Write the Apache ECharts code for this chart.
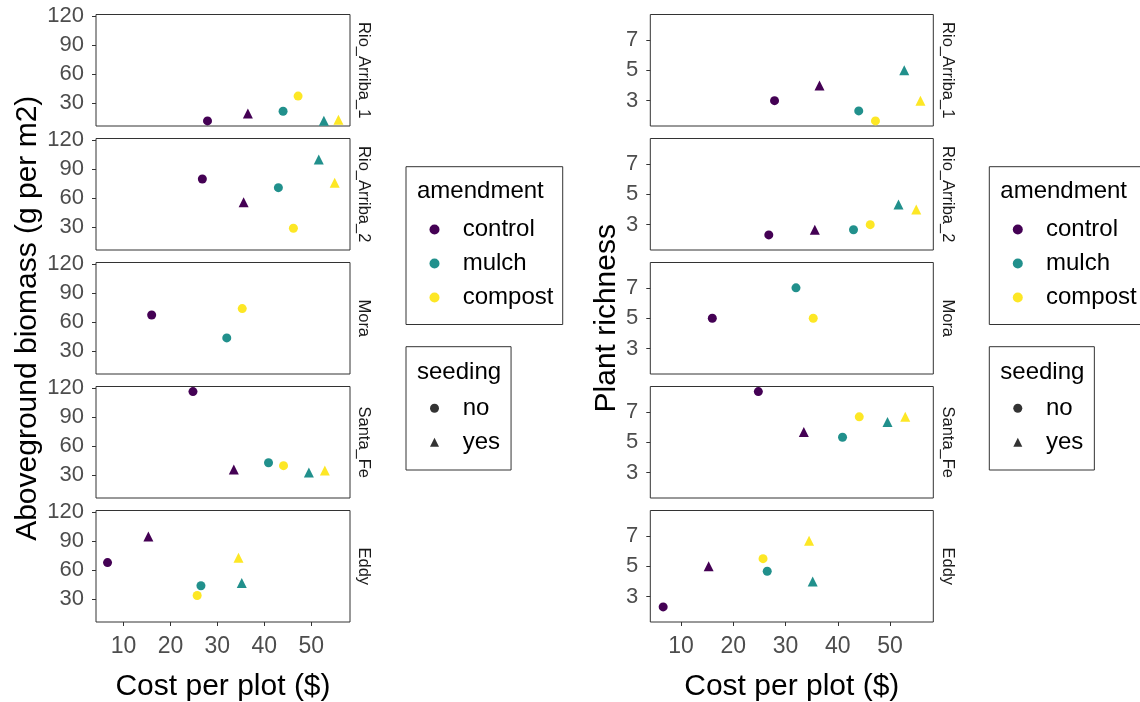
<!DOCTYPE html>
<html>
<head>
<meta charset="utf-8">
<title>Cost vs biomass and richness</title>
<script src="https://cdn.jsdelivr.net/npm/echarts@6/dist/echarts.min.js"></script>
<style>
  html, body { margin: 0; padding: 0; background: #fff; }
  #chart { width: 1140px; height: 702px; }
</style>
</head>
<body>
<div id="chart"></div>
<script>
// facets, groups and tick labels
const sites = ['Rio_Arriba_1', 'Rio_Arriba_2', 'Mora', 'Santa_Fe', 'Eddy'];
const amendments = ['control', 'mulch', 'compost'];
const amendmentColors = ['#440154', '#21908C', '#FDE725'];
const seedings = ['no', 'yes'];
const costTicks = [10, 20, 30, 40, 50];
const biomassTicks = [30, 60, 90, 120];
const richnessTicks = [3, 5, 7];

// one entry per plot mean
const pointSite = [
  'Rio_Arriba_1', 'Rio_Arriba_1', 'Rio_Arriba_1', 'Rio_Arriba_1', 'Rio_Arriba_1', 'Rio_Arriba_1',
  'Rio_Arriba_2', 'Rio_Arriba_2', 'Rio_Arriba_2', 'Rio_Arriba_2', 'Rio_Arriba_2', 'Rio_Arriba_2',
  'Mora', 'Mora', 'Mora',
  'Santa_Fe', 'Santa_Fe', 'Santa_Fe', 'Santa_Fe', 'Santa_Fe', 'Santa_Fe',
  'Eddy', 'Eddy', 'Eddy', 'Eddy', 'Eddy', 'Eddy'
];
const pointAmendment = [
  'control', 'control', 'mulch', 'mulch', 'compost', 'compost',
  'control', 'control', 'mulch', 'mulch', 'compost', 'compost',
  'control', 'mulch', 'compost',
  'control', 'control', 'mulch', 'mulch', 'compost', 'compost',
  'control', 'control', 'mulch', 'mulch', 'compost', 'compost'
];
const pointSeeding = [
  'no', 'yes', 'no', 'yes', 'no', 'yes',
  'no', 'yes', 'no', 'yes', 'no', 'yes',
  'no', 'no', 'no',
  'no', 'yes', 'no', 'yes', 'no', 'yes',
  'no', 'yes', 'no', 'yes', 'no', 'yes'
];
const cost = [
  27.9, 36.5, 44.0, 52.7, 47.2, 55.8,
  26.8, 35.6, 43.0, 51.6, 46.2, 55.0,
  16.0, 32.0, 35.3,
  24.8, 33.5, 40.9, 49.5, 44.1, 52.9,
  6.6, 15.3, 26.5, 35.2, 25.7, 34.5
];
const biomass = [
  11.8, 19.5, 21.8, 12, 37.5, 13,
  80, 56, 71, 100, 29, 76,
  67.6, 43.9, 74.2,
  116.6, 36, 43, 33, 40, 35,
  68, 95, 44, 47, 34, 73
];
const richness = [
  3.0, 4.0, 2.33, 5.0, 1.67, 3.0,
  2.33, 2.67, 2.67, 4.33, 3.0, 4.0,
  5, 7, 5,
  8.33, 5.67, 5.33, 6.33, 6.67, 6.67,
  2.33, 5.0, 4.67, 4.0, 5.5, 6.67
];

const FONT = '"Liberation Sans", Arial, sans-serif';
const facetTop0 = 14.5;
const facetStep = 124;
const facetH = 111.5;

// ggplot style 5% padding around the data
const padRange = arr => {
  const lo = Math.min(...arr), hi = Math.max(...arr);
  const pad = (hi - lo) * 0.05;
  return [lo - pad, hi + pad];
};
const costRange = padRange(cost);

const panels = [
  { left: 96, width: 254, values: biomass, ticks: biomassTicks,
    title: 'Aboveground biomass (g per m2)', nameGap: 53, legendLeft: 406 },
  { left: 650.3, width: 283, values: richness, ticks: richnessTicks,
    title: 'Plant richness', nameGap: 19, legendLeft: 989.3 }
];

const grids = [], xAxes = [], yAxes = [], series = [], graphics = [], legends = [];

panels.forEach((p, pi) => {
  const yRange = padRange(p.values);
  sites.forEach((site, fi) => {
    const idx = grids.length;
    const top = facetTop0 + fi * facetStep;
    const isBottom = fi === sites.length - 1;
    grids.push({
      left: p.left, top: top, width: p.width, height: facetH,
      show: true, borderColor: '#333333', borderWidth: 1,
      backgroundColor: 'transparent', containLabel: false, outerBoundsMode: 'none'
    });
    xAxes.push({
      type: 'value', gridIndex: idx, min: costRange[0], max: costRange[1],
      axisLine: { show: false },
      splitLine: { show: false },
      axisTick: { show: isBottom, customValues: costTicks, length: 4,
        lineStyle: { color: '#333333' } },
      axisLabel: { show: isBottom, customValues: costTicks, fontSize: 23,
        color: '#4D4D4D', margin: 13, fontFamily: FONT },
      name: isBottom ? 'Cost per plot ($)' : '',
      nameLocation: 'middle', nameGap: 50,
      nameTextStyle: { fontSize: 30, color: '#000', fontFamily: FONT }
    });
    yAxes.push({
      type: 'value', gridIndex: idx, min: yRange[0], max: yRange[1],
      axisLine: { show: false },
      splitLine: { show: false },
      axisTick: { show: true, customValues: p.ticks, length: 4,
        lineStyle: { color: '#333333' } },
      axisLabel: { customValues: p.ticks, fontSize: 22, color: '#4D4D4D',
        margin: 12, fontFamily: FONT },
      name: fi === 2 ? p.title : '',
      nameLocation: 'middle', nameGap: p.nameGap,
      nameTextStyle: { fontSize: 30, color: '#000', fontFamily: FONT }
    });

    amendments.forEach((am, ai) => {
      seedings.forEach(sd => {
        const data = [];
        cost.forEach((c, k) => {
          if (pointSite[k] === site && pointAmendment[k] === am && pointSeeding[k] === sd) {
            data.push([c, p.values[k]]);
          }
        });
        if (!data.length) return;
        series.push({
          type: 'scatter', name: am, xAxisIndex: idx, yAxisIndex: idx,
          symbol: sd === 'yes' ? 'triangle' : 'circle',
          symbolSize: sd === 'yes' ? 10 : 9,
          itemStyle: { color: amendmentColors[ai], opacity: 1 },
          data: data
        });
      });
    });

    // facet strip label on the right
    graphics.push({
      type: 'text',
      x: p.left + p.width + 14, y: top + facetH / 2,
      rotation: -Math.PI / 2,
      style: { text: site, fontSize: 16.5, fontFamily: FONT, fill: '#1A1A1A',
        align: 'center', verticalAlign: 'middle' }
    });
  });

  // legends: amendment (colour) and seeding (shape)
  legends.push({
    left: p.legendLeft, top: 166.7, orient: 'vertical',
    padding: [50.8, 9.3, 15, 23.5], itemWidth: 10, itemHeight: 10, itemGap: 10,
    borderColor: '#333333', borderWidth: 1, selectedMode: false,
    textStyle: { fontSize: 24, color: '#000', fontFamily: FONT, padding: [0, 0, 0, 18.2] },
    data: amendments.map(a => ({ name: a, icon: 'circle' }))
  });
  legends.push({
    left: p.legendLeft, top: 346.7, orient: 'vertical',
    padding: [49.6, 11, 15.7, 24], itemWidth: 9, itemHeight: 9, itemGap: 10,
    borderColor: '#333333', borderWidth: 1, selectedMode: false,
    textStyle: { fontSize: 24, color: '#000', fontFamily: FONT, padding: [0, 0, 0, 18.7] },
    data: seedings.map(s => ({ name: s, icon: s === 'yes' ? 'triangle' : 'circle' }))
  });
  graphics.push({
    type: 'text', x: p.legendLeft + 11, y: 191,
    style: { text: 'amendment', fontSize: 24, fontFamily: FONT, fill: '#000',
      align: 'left', verticalAlign: 'middle' }
  });
  graphics.push({
    type: 'text', x: p.legendLeft + 11, y: 372,
    style: { text: 'seeding', fontSize: 24, fontFamily: FONT, fill: '#000',
      align: 'left', verticalAlign: 'middle' }
  });
});

// empty series that feed the shape legend
seedings.forEach(sd => {
  series.push({
    type: 'scatter', name: sd, xAxisIndex: 0, yAxisIndex: 0,
    symbol: sd === 'yes' ? 'triangle' : 'circle',
    itemStyle: { color: '#000' }, data: []
  });
});

const chart = echarts.init(document.getElementById('chart'));
chart.setOption({
  animation: false,
  backgroundColor: '#fff',
  grid: grids,
  xAxis: xAxes,
  yAxis: yAxes,
  legend: legends,
  graphic: graphics,
  series: series
});
window.addEventListener('resize', () => chart.resize());
</script>
</body>
</html>
